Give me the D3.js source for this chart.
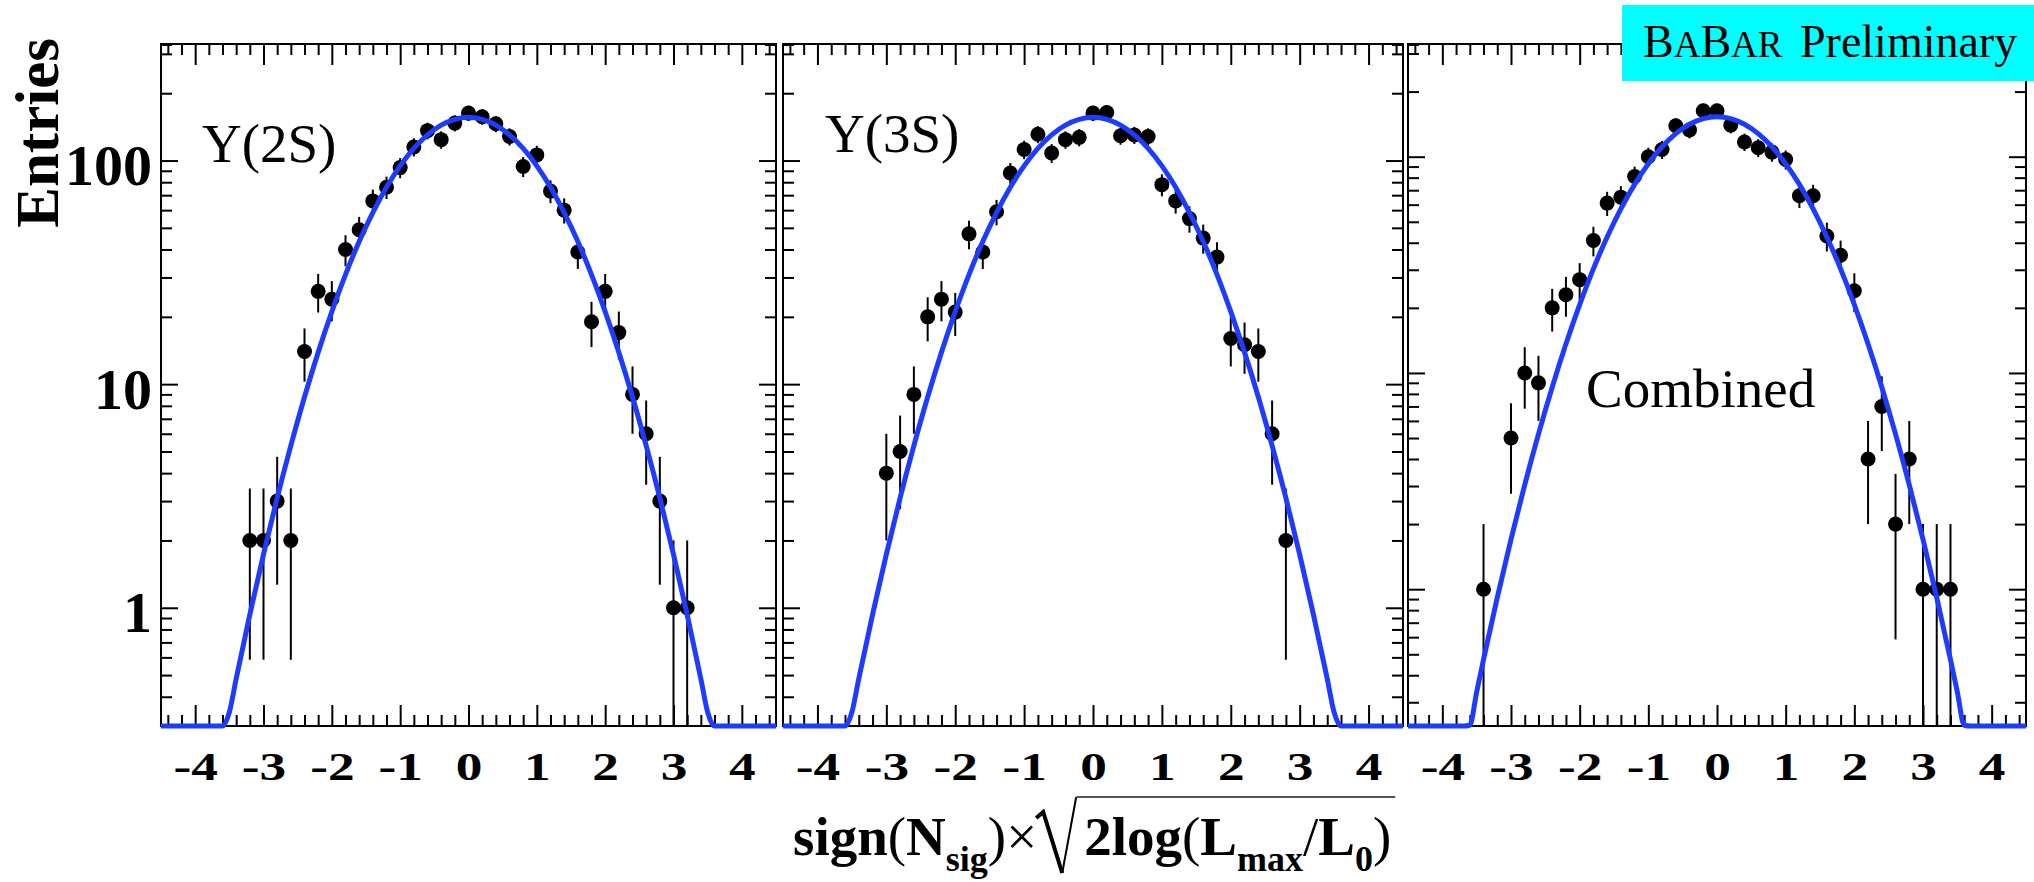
<!DOCTYPE html>
<html>
<head>
<meta charset="utf-8">
<script src="https://cdn.jsdelivr.net/npm/d3@7"></script>
<style>
body { margin: 0; background: #fff; }
svg { display: block; }
</style>
</head>
<body>
<div id="chart"></div>
<script>
// bin centres and entries
var upsilon2SX = [-3.2, -3.0, -2.8, -2.6, -2.4, -2.2, -2.0, -1.8, -1.6, -1.4, -1.2, -1.0, -0.8, -0.6, -0.4, -0.2, 0,
    0.2, 0.4, 0.6, 0.8, 1.0, 1.2, 1.4, 1.6, 1.8, 2.0, 2.2, 2.4, 2.6, 2.8, 3.0, 3.2];
var upsilon2SCounts = [2, 2, 3, 2, 14, 26, 24, 40, 49, 66, 76, 93, 115, 136, 124, 147, 163,
    157, 146, 128, 94, 106, 73, 60, 39, 19, 26, 17, 9, 6, 3, 1, 1];

var upsilon3SX = [-3.0, -2.8, -2.6, -2.4, -2.2, -2.0, -1.8, -1.6, -1.4, -1.2, -1.0, -0.8, -0.6, -0.4, -0.2, 0,
    0.2, 0.4, 0.6, 0.8, 1.0, 1.2, 1.4, 1.6, 1.8, 2.0, 2.2, 2.4, 2.6, 2.8];
var upsilon3SCounts = [4, 5, 9, 20, 24, 21, 47, 39, 59, 88, 112, 131, 108, 124, 127, 163,
    164, 129, 130, 128, 78, 66, 55, 45, 37, 16, 15, 14, 6, 2];

var combinedX = [-3.4, -3.0, -2.8, -2.6, -2.4, -2.2, -2.0, -1.8, -1.6, -1.4, -1.2, -1.0, -0.8, -0.6, -0.4, -0.2, 0,
    0.2, 0.4, 0.6, 0.8, 1.0, 1.2, 1.4, 1.6, 1.8, 2.0, 2.2, 2.4, 2.6, 2.8, 3.0, 3.2, 3.4];
var combinedCounts = [1, 5, 10, 9, 20, 23, 27, 41, 61, 65, 81, 100, 108, 139, 133, 163, 163,
    140, 117, 110, 105, 97, 66, 66, 43, 35, 24, 4, 7, 2, 4, 1, 1, 1];

// fitted curve, sampled off the blue line
var fitX = [-4.5, -3.7, -3.6, -3.5, -3.4, -3.2, -3.0, -2.8, -2.6, -2.4, -2.2, -2.0, -1.8, -1.6, -1.4, -1.2, -1.0,
    -0.8, -0.6, -0.4, -0.2, 0, 0.2, 0.4, 0.6, 0.8, 1.0, 1.2, 1.4, 1.6, 1.8, 2.0, 2.2, 2.4, 2.6, 2.8, 3.0,
    3.2, 3.4, 3.5, 3.6, 3.7, 4.5];
var fitUpsilon = [0.006, 0.166, 0.239, 0.341, 0.482, 0.932, 1.733, 3.10, 5.31, 8.76, 13.87, 21.1, 30.9, 43.4, 58.5, 75.9, 94.6,
    113.3, 130.3, 144.0, 152.9, 156, 152.9, 144.0, 130.3, 113.3, 94.6, 75.9, 58.5, 43.4, 30.9, 21.1, 13.87, 8.76, 5.31, 3.10, 1.733,
    0.932, 0.482, 0.341, 0.239, 0.166, 0.006];
var fitCombined = [0.006, 0.163, 0.235, 0.335, 0.473, 0.914, 1.70, 3.04, 5.21, 8.59, 13.60, 20.7, 30.3, 42.5, 57.4, 74.5, 92.8,
    111.1, 127.8, 141.2, 150.0, 153, 150.0, 141.2, 127.8, 111.1, 92.8, 74.5, 57.4, 42.5, 30.3, 20.7, 13.60, 8.59, 5.21, 3.04, 1.70,
    0.914, 0.473, 0.335, 0.235, 0.163, 0.006];

var xTicks = [-4, -3, -2, -1, 0, 1, 2, 3, 4];
var xTickLabels = ["-4", "-3", "-2", "-1", "0", "1", "2", "3", "4"];
var yTicks = [1, 10, 100];
var yTickLabels = ["1", "10", "100"];

var width = 2034;
var height = 882;
var frameTop = 44;
var frameBottom = 726;
var yMax = 332;
var serif = '"Liberation Serif", "Times New Roman", serif';
var blue = "#1e3cff";

var xMinor = d3.range(-44, 45, 2).filter(function (d) { return d % 10 !== 0; }).map(function (d) { return d / 10; });
var yMinor = [];
[0.1, 1, 10, 100].forEach(function (dec) {
    for (var k = 2; k <= 9; k++) yMinor.push(k * dec);
});

var panels = [
    { x0: 161, x1: 776, yMin: 0.296, xs: upsilon2SX, counts: upsilon2SCounts, fit: fitUpsilon,
      label: "Y(2S)", lx: 202, ly: 162, yLabels: true },
    { x0: 783, x1: 1403, yMin: 0.296, xs: upsilon3SX, counts: upsilon3SCounts, fit: fitUpsilon,
      label: "Y(3S)", lx: 825, ly: 152 },
    { x0: 1408, x1: 2026, yMin: 0.233, xs: combinedX, counts: combinedCounts, fit: fitCombined,
      label: "Combined", lx: 1586, ly: 407, box: [1567, 347, 283, 93] }
];

var svg = d3.select("#chart")
    .append("svg")
        .attr("width", width)
        .attr("height", height);

svg.append("rect")
    .attr("width", width)
    .attr("height", height)
    .attr("fill", "#fff");

function ticks(g, axis, tx, ty) {
    var a = g.append("g")
        .attr("transform", "translate(" + tx + "," + ty + ")")
        .call(axis);
    a.select(".domain").remove();
    a.selectAll("line").attr("stroke", "#000").attr("stroke-width", 2);
    return a;
}

panels.forEach(function (p) {
    var xScale = d3.scaleLinear()
        .domain([-4.5, 4.5])
        .range([p.x0, p.x1]);

    var yScale = d3.scaleLog()
        .domain([p.yMin, yMax])
        .range([frameBottom, frameTop])
        .clamp(true);

    var g = svg.append("g");

    // ticks on all four sides, pointing inwards
    var xb = ticks(g, d3.axisBottom(xScale).tickValues(xTicks).tickSize(-21)
        .tickFormat(function (d) { return xTickLabels[xTicks.indexOf(d)]; }), 0, frameBottom);
    xb.selectAll("text")
        .attr("y", 54)
        .attr("dy", null)
        .attr("fill", "#000")
        .attr("font-family", serif)
        .attr("font-weight", "bold")
        .attr("font-size", 41)
        .attr("transform", "scale(1.3,1)");
    ticks(g, d3.axisBottom(xScale).tickValues(xMinor).tickSize(-11).tickFormat(""), 0, frameBottom);
    ticks(g, d3.axisTop(xScale).tickValues(xTicks).tickSize(-21).tickFormat(""), 0, frameTop);
    ticks(g, d3.axisTop(xScale).tickValues(xMinor).tickSize(-11).tickFormat(""), 0, frameTop);

    var yl = ticks(g, d3.axisLeft(yScale).tickValues(yTicks).tickSize(-17)
        .tickFormat(function (d) { return p.yLabels ? yTickLabels[yTicks.indexOf(d)] : ""; }), p.x0, 0);
    yl.selectAll("text")
        .attr("x", -9)
        .attr("y", 24)
        .attr("dy", null)
        .attr("fill", "#000")
        .attr("font-family", serif)
        .attr("font-weight", "bold")
        .attr("font-size", 58);
    ticks(g, d3.axisLeft(yScale).tickValues(yMinor).tickSize(-11).tickFormat(""), p.x0, 0);
    ticks(g, d3.axisRight(yScale).tickValues(yTicks).tickSize(-17).tickFormat(""), p.x1, 0);
    ticks(g, d3.axisRight(yScale).tickValues(yMinor).tickSize(-11).tickFormat(""), p.x1, 0);

    g.append("rect")
        .attr("x", p.x0)
        .attr("y", frameTop)
        .attr("width", p.x1 - p.x0)
        .attr("height", frameBottom - frameTop)
        .attr("fill", "none")
        .attr("stroke", "#000")
        .attr("stroke-width", 2);

    var bins = d3.zip(p.xs, p.counts);

    g.selectAll(".err")
        .data(bins)
        .enter().append("line")
            .attr("class", "err")
            .attr("x1", function (d) { return xScale(d[0]); })
            .attr("x2", function (d) { return xScale(d[0]); })
            .attr("y1", function (d) { return yScale(d[1] + Math.sqrt(d[1])); })
            .attr("y2", function (d) { return yScale(Math.max(d[1] - Math.sqrt(d[1]), p.yMin)); })
            .attr("stroke", "#000")
            .attr("stroke-width", 2);

    g.selectAll(".pt")
        .data(bins)
        .enter().append("circle")
            .attr("class", "pt")
            .attr("cx", function (d) { return xScale(d[0]); })
            .attr("cy", function (d) { return yScale(d[1]); })
            .attr("r", 7.5)
            .attr("fill", "#000");

    var fitLine = d3.line()
        .x(function (d) { return xScale(d[0]); })
        .y(function (d) { return yScale(d[1]); })
        .curve(d3.curveMonotoneX);

    g.append("path")
        .datum(d3.zip(fitX, p.fit))
        .attr("d", fitLine)
        .attr("fill", "none")
        .attr("stroke", blue)
        .attr("stroke-width", 5);

    if (p.box) {
        g.append("rect")
            .attr("x", p.box[0])
            .attr("y", p.box[1])
            .attr("width", p.box[2])
            .attr("height", p.box[3])
            .attr("fill", "#fff");
    }

    g.append("text")
        .attr("x", p.lx)
        .attr("y", p.ly)
        .attr("font-family", serif)
        .attr("font-size", 55)
        .text(p.label);
});

// y axis title
svg.append("text")
    .attr("transform", "translate(58,38)rotate(-90)")
    .attr("text-anchor", "end")
    .attr("font-family", serif)
    .attr("font-weight", "bold")
    .attr("font-size", 61)
    .text("Entries");

// x axis title: sign(N_sig) x sqrt(2log(Lmax/L0))
var titleY = 855;
var subDy = 16;

var t1 = svg.append("text")
    .attr("x", 793)
    .attr("y", titleY)
    .attr("font-family", serif)
    .attr("font-weight", "bold")
    .attr("font-size", 55);
t1.append("tspan").text("sign");
t1.append("tspan").attr("font-weight", "normal").text("(");
t1.append("tspan").text("N");
t1.append("tspan").attr("font-size", 36).attr("dy", subDy).text("sig");
t1.append("tspan").attr("font-weight", "normal").attr("dy", -subDy).text(")");
t1.append("tspan").attr("font-weight", "normal").text("×");

var rx = t1.node().getBBox().x + t1.node().getBBox().width;

var t2 = svg.append("text")
    .attr("x", rx + 47)
    .attr("y", titleY)
    .attr("font-family", serif)
    .attr("font-weight", "bold")
    .attr("font-size", 55);
t2.append("tspan").text("2log");
t2.append("tspan").attr("font-weight", "normal").text("(");
t2.append("tspan").text("L");
t2.append("tspan").attr("font-size", 36).attr("dy", subDy).text("max");
t2.append("tspan").attr("font-weight", "normal").attr("dy", -subDy).text("/");
t2.append("tspan").text("L");
t2.append("tspan").attr("font-size", 36).attr("dy", subDy).text("0");
t2.append("tspan").attr("font-weight", "normal").attr("dy", -subDy).text(")");

var rEnd = t2.node().getBBox().x + t2.node().getBBox().width;

svg.append("path")
    .attr("d", "M" + (rx - 1) + ",818L" + (rx + 6) + ",812L" + (rx + 25) + ",873")
    .attr("fill", "none")
    .attr("stroke", "#000")
    .attr("stroke-width", 4);
svg.append("path")
    .attr("d", "M" + (rx + 25) + ",873L" + (rx + 39) + ",797")
    .attr("fill", "none")
    .attr("stroke", "#000")
    .attr("stroke-width", 2);
svg.append("path")
    .attr("d", "M" + (rx + 39) + ",797L" + (rEnd + 4) + ",797")
    .attr("fill", "none")
    .attr("stroke", "#555")
    .attr("stroke-width", 2);

// experiment tag
svg.append("rect")
    .attr("x", 1622)
    .attr("y", 5)
    .attr("width", width - 1622)
    .attr("height", 76)
    .attr("fill", "#00ffff");

var tag = svg.append("text")
    .attr("x", 1643)
    .attr("y", 57)
    .attr("font-family", serif)
    .attr("font-size", 46);
tag.append("tspan").text("B");
tag.append("tspan").attr("font-size", 37).text("A");
tag.append("tspan").text("B");
tag.append("tspan").attr("font-size", 37).text("AR");
tag.append("tspan").attr("x", 1800).text("Preliminary");
</script>
</body>
</html>
